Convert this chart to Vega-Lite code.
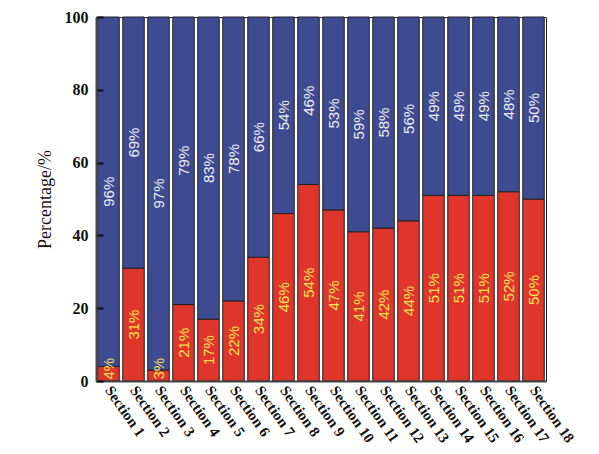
{
  "$schema": "https://vega.github.io/schema/vega-lite/v6.json",
  "width": 450,
  "height": 364,
  "autosize": "none",
  "padding": {"left": 96, "top": 17, "right": 53, "bottom": 73},
  "background": "white",
  "config": {
    "view": {"stroke": "#222", "strokeWidth": 1}
  },
  "data": {
    "values": [
      {"section": "Section 1", "part": "low", "order": 1, "value": 4},
      {"section": "Section 1", "part": "high", "order": 2, "value": 96},
      {"section": "Section 2", "part": "low", "order": 1, "value": 31},
      {"section": "Section 2", "part": "high", "order": 2, "value": 69},
      {"section": "Section 3", "part": "low", "order": 1, "value": 3},
      {"section": "Section 3", "part": "high", "order": 2, "value": 97},
      {"section": "Section 4", "part": "low", "order": 1, "value": 21},
      {"section": "Section 4", "part": "high", "order": 2, "value": 79},
      {"section": "Section 5", "part": "low", "order": 1, "value": 17},
      {"section": "Section 5", "part": "high", "order": 2, "value": 83},
      {"section": "Section 6", "part": "low", "order": 1, "value": 22},
      {"section": "Section 6", "part": "high", "order": 2, "value": 78},
      {"section": "Section 7", "part": "low", "order": 1, "value": 34},
      {"section": "Section 7", "part": "high", "order": 2, "value": 66},
      {"section": "Section 8", "part": "low", "order": 1, "value": 46},
      {"section": "Section 8", "part": "high", "order": 2, "value": 54},
      {"section": "Section 9", "part": "low", "order": 1, "value": 54},
      {"section": "Section 9", "part": "high", "order": 2, "value": 46},
      {"section": "Section 10", "part": "low", "order": 1, "value": 47},
      {"section": "Section 10", "part": "high", "order": 2, "value": 53},
      {"section": "Section 11", "part": "low", "order": 1, "value": 41},
      {"section": "Section 11", "part": "high", "order": 2, "value": 59},
      {"section": "Section 12", "part": "low", "order": 1, "value": 42},
      {"section": "Section 12", "part": "high", "order": 2, "value": 58},
      {"section": "Section 13", "part": "low", "order": 1, "value": 44},
      {"section": "Section 13", "part": "high", "order": 2, "value": 56},
      {"section": "Section 14", "part": "low", "order": 1, "value": 51},
      {"section": "Section 14", "part": "high", "order": 2, "value": 49},
      {"section": "Section 15", "part": "low", "order": 1, "value": 51},
      {"section": "Section 15", "part": "high", "order": 2, "value": 49},
      {"section": "Section 16", "part": "low", "order": 1, "value": 51},
      {"section": "Section 16", "part": "high", "order": 2, "value": 49},
      {"section": "Section 17", "part": "low", "order": 1, "value": 52},
      {"section": "Section 17", "part": "high", "order": 2, "value": 48},
      {"section": "Section 18", "part": "low", "order": 1, "value": 50},
      {"section": "Section 18", "part": "high", "order": 2, "value": 50}
    ]
  },
  "encoding": {
    "x": {
      "field": "section",
      "type": "nominal",
      "sort": null,
      "scale": {"paddingInner": 0.14, "paddingOuter": 0.07},
      "axis": {
        "title": null,
        "labelAngle": 55,
        "labelAlign": "left",
        "labelBaseline": "middle",
        "labelFont": "Liberation Serif",
        "labelFontWeight": "bold",
        "labelFontSize": 15,
        "labelColor": "#111",
        "labelPadding": 6,
        "ticks": false,
        "domainColor": "#444",
        "domainWidth": 2,
        "zindex": 1
      }
    }
  },
  "layer": [
    {
      "mark": {"type": "bar", "stroke": "#222", "strokeWidth": 1},
      "encoding": {
        "y": {
          "field": "value",
          "type": "quantitative",
          "stack": "zero",
          "scale": {"domain": [0, 100], "nice": false},
          "axis": {
            "title": "Percentage/%",
            "titleFont": "Liberation Serif",
            "titleFontWeight": "normal",
            "titleFontSize": 18,
            "titleColor": "#111",
            "titlePadding": 10,
            "values": [0, 10, 20, 30, 40, 50, 60, 70, 80, 90, 100],
            "labelExpr": "datum.value % 20 === 0 ? datum.label : ''",
            "labelFont": "Liberation Serif",
            "labelFontWeight": "bold",
            "labelFontSize": 16,
            "labelColor": "#111",
            "labelPadding": 15,
            "ticks": true,
            "tickSize": -7,
            "tickColor": "#111",
            "tickWidth": 2,
            "grid": false,
            "domainColor": "#444",
            "domainWidth": 2,
            "zindex": 2
          }
        },
        "order": {"field": "order", "type": "quantitative"},
        "color": {
          "field": "part",
          "type": "nominal",
          "scale": {"domain": ["low", "high"], "range": ["#e0352b", "#3e4b91"]},
          "legend": null
        }
      }
    },
    {
      "transform": [
        {"stack": "value", "groupby": ["section"], "sort": [{"field": "order"}], "as": ["y0", "y1"]},
        {"calculate": "max((datum.y0 + datum.y1) / 2, datum.y0 + 3.4)", "as": "mid"},
        {"calculate": "datum.value + '%'", "as": "label"}
      ],
      "mark": {"type": "text", "angle": 270, "font": "Liberation Sans", "fontSize": 15},
      "encoding": {
        "y": {"field": "mid", "type": "quantitative"},
        "text": {"field": "label", "type": "nominal"},
        "color": {
          "condition": {"test": "datum.part === 'low'", "value": "#f3e352"},
          "value": "#eeeef4"
        }
      }
    }
  ]
}
